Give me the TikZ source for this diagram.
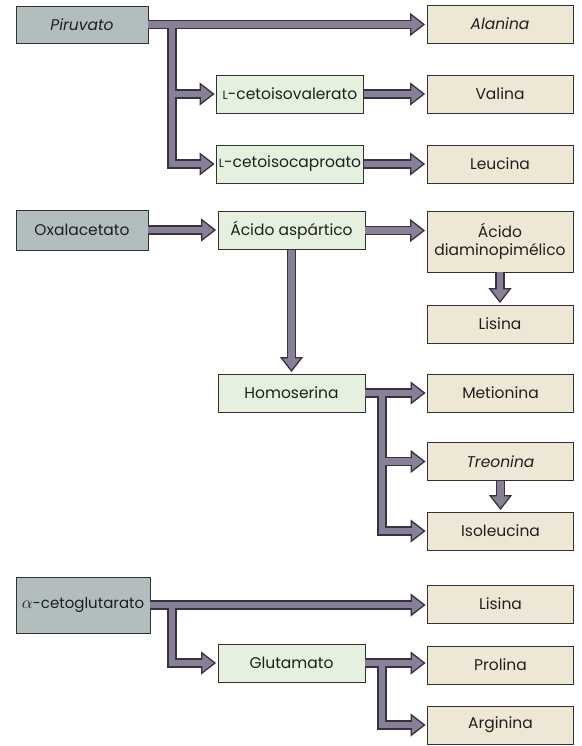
\documentclass[tikz,border=0pt]{standalone}
\usepackage{fontspec}
\setmainfont{Poppins}
\usetikzlibrary{arrows.meta}

\definecolor{srcfill}{RGB}{178,190,190}
\definecolor{midfill}{RGB}{229,241,222}
\definecolor{endfill}{RGB}{238,231,213}
\definecolor{boxline}{RGB}{50,50,50}
\definecolor{pipefill}{RGB}{136,128,150}
\definecolor{pipeline}{RGB}{56,50,64}

% small capital L used in the keto-acid names
\newcommand\lpref{{\fontsize{12}{12}\selectfont L}}
% a slightly enlarged alpha prefix
\newcommand\alphapref{{\fontsize{18}{18}\selectfont$\alpha$}}

\tikzset{
  box/.style={draw=boxline, line width=0.9pt, inner sep=0pt, align=center,
    text=black!88, font=\fontsize{15.5}{17.5}\selectfont},
  srcbox/.style={box, fill=srcfill, minimum width=132pt, minimum height=38pt},
  midbox/.style={box, fill=midfill, minimum width=147pt, minimum height=38pt},
  endbox/.style={box, fill=endfill, minimum width=146pt, minimum height=38pt},
  pipeouter/.style={draw=pipeline, line width=9.5pt,
    -{Triangle[length=15pt, width=23pt, line width=1.3pt, fill=pipefill]},
    shorten >=1.5pt},
  pipeinner/.style={draw=pipefill, line width=6.9pt, shorten >=14pt},
}

% every pathway connector, drawn once per pass (outline, then fill)
\newcommand\pipes[1]{%
  \draw[#1] (pir.east) -- (pir.east -| ala.west);
  \draw[#1] (pir.east) -| (jA |- civ.west) -- (civ.west);
  \draw[#1] (pir.east) -| (jA |- cic.west) -- (cic.west);
  \draw[#1] (civ.east) -- (civ.east -| val.west);
  \draw[#1] (cic.east) -- (cic.east -| leu.west);
  \draw[#1] (oxa.east) -- (oxa.east -| asp.west);
  \draw[#1] (asp.east) -- (asp.east -| dap.west);
  \draw[#1] (dap.south) -- (lisa.north);
  \draw[#1] (asp.south) -- (hom.north);
  \draw[#1] (hom.east) -- (hom.east -| met.west);
  \draw[#1] (hom.east) -| (jB |- tre.west) -- (tre.west);
  \draw[#1] (hom.east) -| (jB |- iso.west) -- (iso.west);
  \draw[#1] (tre.south) -- (iso.north);
  \draw[#1] (akg.east) -- (akg.east -| lisb.west);
  \draw[#1] (akg.east) -| (jA |- glu.west) -- (glu.west);
  \draw[#1] (glu.east) -- (glu.east -| pro.west);
  \draw[#1] (glu.east) -| (jB |- arg.west) -- (arg.west);
}

\begin{document}
\begin{tikzpicture}[x=1pt, y=-1pt]
  \useasboundingbox (0,0) rectangle (581,746);
  \fill[white] (0,0) rectangle (581,746);

  \coordinate (jA) at (172,0);
  \coordinate (jB) at (382,0);

  % pyruvate family
  \node[srcbox, minimum height=37pt] (pir) at (82,24.5) {\textit{Piruvato}};
  \node[endbox] (ala) at (500,24) {\textit{Alanina}};
  \node[midbox] (civ) at (290,94) {\lpref-cetoisovalerato};
  \node[endbox] (val) at (500,94) {Valina};
  \node[midbox] (cic) at (290,164) {\lpref-cetoisocaproato};
  \node[endbox] (leu) at (500,164) {Leucina};

  % aspartate family
  \node[srcbox, minimum height=40pt] (oxa) at (82,230) {Oxalacetato};
  \node[midbox] (asp) at (291.5,230.5) {Ácido aspártico};
  \node[endbox, minimum height=61pt] (dap) at (500,241.5) {Ácido\\diaminopimélico};
  \node[endbox] (lisa) at (500,324) {Lisina};
  \node[midbox] (hom) at (291.5,393) {Homoserina};
  \node[endbox] (met) at (500.5,393) {Metionina};
  \node[endbox] (tre) at (500.5,461.5) {\textit{Treonina}};
  \node[endbox] (iso) at (500.5,531) {Isoleucina};

  % glutamate family
  \node[srcbox, minimum width=134pt, minimum height=56pt,
        font=\fontsize{15}{17}\selectfont] (akg) at (83,605) {\alphapref-cetoglutarato};
  \node[endbox] (lisb) at (500.5,604) {Lisina};
  \node[midbox] (glu) at (291.5,663) {Glutamato};
  \node[endbox] (pro) at (500.5,665) {Prolina};
  \node[endbox] (arg) at (500.5,725) {Arginina};

  \pipes{pipeouter}
  \pipes{pipeinner}
\end{tikzpicture}
\end{document}
